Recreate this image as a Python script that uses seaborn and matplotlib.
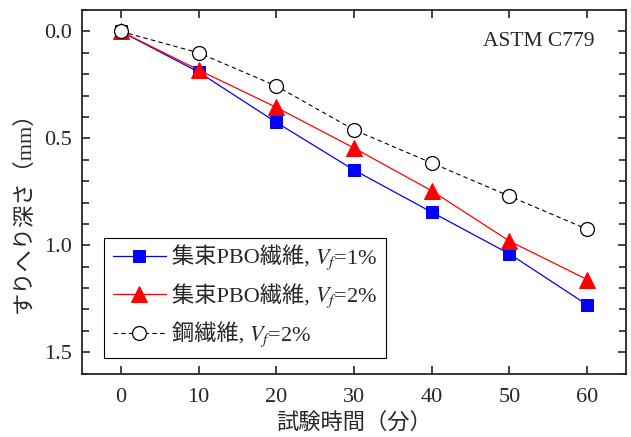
import numpy as np
import pandas as pd
import seaborn as sns
import matplotlib
matplotlib.use("Agg")
import matplotlib.pyplot as plt
from matplotlib.ticker import MultipleLocator
from matplotlib.offsetbox import TextArea, HPacker

# data
time_min = [0, 10, 20, 30, 40, 50, 60]
pbo_1 = [0.0, 0.19, 0.425, 0.648, 0.845, 1.04, 1.278]
pbo_2 = [0.0, 0.18, 0.355, 0.545, 0.745, 0.98, 1.16]
steel_2 = [0.0, 0.10, 0.255, 0.46, 0.615, 0.77, 0.925]
label_names = ["集束PBO繊維, ", "集束PBO繊維, ", "鋼繊維, "]
label_vf = ["$V_f$=1%", "$V_f$=2%", "$V_f$=2%"]

sns.set_style("ticks")
plt.rcParams["font.family"] = ["Liberation Serif", "Noto Sans CJK JP"]
plt.rcParams["mathtext.fontset"] = "stix"

fig, ax = plt.subplots(figsize=(6.31, 4.37), dpi=100)

df = pd.DataFrame({"t": time_min, "a": pbo_1, "b": pbo_2, "c": steel_2})
sns.lineplot(data=df, x="t", y="a", ax=ax, color="blue", lw=0.9, marker="s",
             markersize=9, markeredgecolor="blue", label="s1")
sns.lineplot(data=df, x="t", y="b", ax=ax, color="red", lw=0.9, marker="^",
             markersize=11, markeredgecolor="red", label="s2")
sns.lineplot(data=df, x="t", y="c", ax=ax, color="black", lw=0.8, marker="o",
             markersize=10, markerfacecolor="white", markeredgecolor="black",
             markeredgewidth=0.9, linestyle=(0, (4, 3)), label="s3")

ax.set_xlim(-5, 65)
ax.set_ylim(1.6, -0.1)
ax.xaxis.set_major_locator(MultipleLocator(10))
ax.yaxis.set_major_locator(MultipleLocator(0.5))
ax.yaxis.set_minor_locator(MultipleLocator(0.1))
ax.yaxis.set_major_formatter(matplotlib.ticker.FormatStrFormatter("%.1f"))
ax.tick_params(which="both", direction="in", top=True, right=True, labelsize=16,
               width=1.2, pad=7)
ax.tick_params(axis="x", pad=10)
ax.tick_params(which="major", length=6)
ax.tick_params(which="minor", length=5)
for s in ax.spines.values():
    s.set_linewidth(1.3)

ax.set_xlabel("試験時間（分）", fontsize=16, labelpad=4)
ax.set_ylabel("すりへり深さ（mm）", fontsize=16)
ax.yaxis.set_label_coords(-0.087, 0.46)
ax.text(0.943, 0.94, "ASTM C779", transform=ax.transAxes, ha="right", va="top", fontsize=15.5)

leg = ax.legend(loc="lower left", bbox_to_anchor=(0.04, 0.044), borderaxespad=0,
                fontsize=16, frameon=True, fancybox=False, edgecolor="black",
                framealpha=1, handlelength=2.4, handletextpad=0.25, borderpad=0.4,
                labelspacing=0.6)
leg.get_frame().set_linewidth(0.8)

# swap each legend text for CJK text + mathtext V_f part (mathtext has no CJK glyphs)
rows = leg._legend_handle_box.get_children()[0].get_children()
for row, name, vf in zip(rows, label_names, label_vf):
    name_box = TextArea(name, textprops=dict(fontsize=16))
    vf_box = TextArea(vf, textprops=dict(fontsize=16))
    hp = HPacker(children=[name_box, vf_box], pad=0, sep=0, align="baseline")
    hp.set_figure(fig)
    row._children[1] = hp

plt.subplots_adjust(left=0.13, right=0.992, top=0.977, bottom=0.145)
plt.savefig("out.png", dpi=100)
